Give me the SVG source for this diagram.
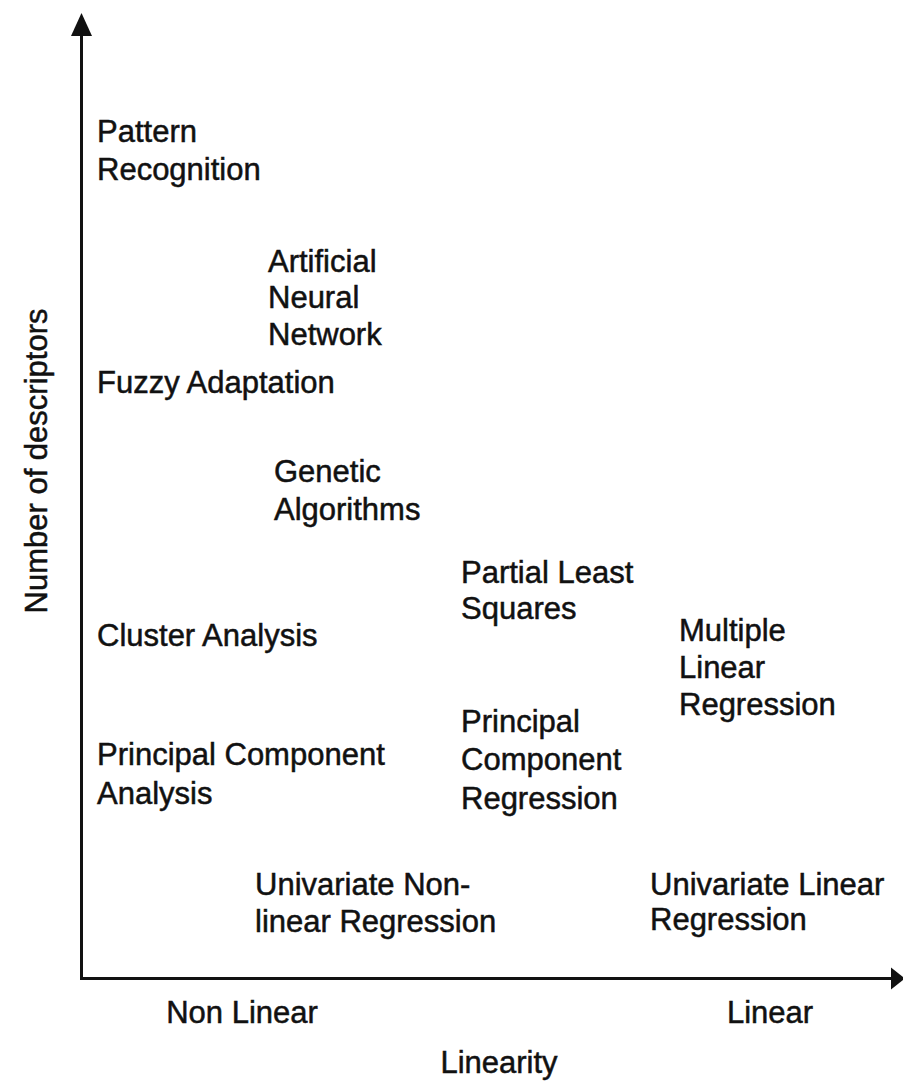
<svg xmlns="http://www.w3.org/2000/svg" width="903" height="1083" viewBox="0 0 903 1083">
<style>
text{font-family:"Liberation Sans",Arial,Helvetica,sans-serif;font-size:31px;fill:#111;stroke:#111;stroke-width:0.5}
.ax{stroke:#111;stroke-width:3;fill:none}
.ah{fill:#111}
</style>
<rect width="903" height="1083" fill="#fff"/>
<g id="axes">
<path class="ax" d="M81.5,30 V978.5 H895"/>
<polygon class="ah" points="81.5,13 71,36 92,36"/>
<polygon class="ah" points="905,978.5 891,967.5 891,989.5"/>
</g>
<g id="axis-labels">
<text x="242" y="1023" text-anchor="middle">Non Linear</text>
<text x="770" y="1023" text-anchor="middle">Linear</text>
<text x="499" y="1073" text-anchor="middle">Linearity</text>
<text transform="translate(47,461) rotate(-90)" text-anchor="middle">Number of descriptors</text>
</g>
<g id="pattern-recognition"><text x="97" y="142">Pattern</text><text x="97" y="180">Recognition</text></g>
<g id="ann"><text x="268" y="272">Artificial</text><text x="268" y="308">Neural</text><text x="268" y="345">Network</text></g>
<g id="fuzzy"><text x="97" y="393">Fuzzy Adaptation</text></g>
<g id="genetic"><text x="274" y="482">Genetic</text><text x="274" y="520">Algorithms</text></g>
<g id="pls"><text x="461" y="583">Partial Least</text><text x="461" y="619">Squares</text></g>
<g id="cluster"><text x="97" y="646">Cluster Analysis</text></g>
<g id="mlr"><text x="679" y="641">Multiple</text><text x="679" y="678">Linear</text><text x="679" y="715">Regression</text></g>
<g id="pcr"><text x="461" y="732">Principal</text><text x="461" y="770">Component</text><text x="461" y="809">Regression</text></g>
<g id="pca"><text x="97" y="765">Principal Component</text><text x="97" y="804">Analysis</text></g>
<g id="unlr"><text x="255" y="895">Univariate Non-</text><text x="255" y="932">linear Regression</text></g>
<g id="ulr"><text x="650" y="895">Univariate Linear</text><text x="650" y="930">Regression</text></g>
<g id="connectors"></g>
</svg>
